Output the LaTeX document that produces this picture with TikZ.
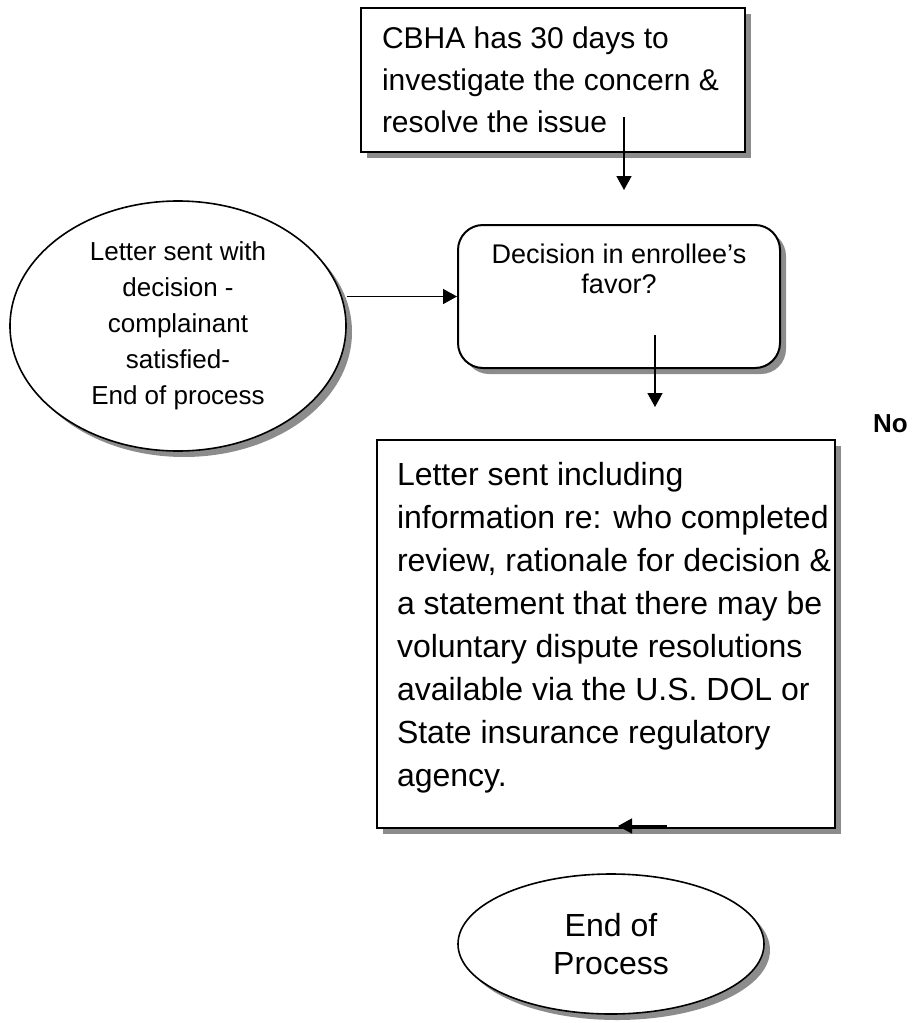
\documentclass[tikz,border=0pt]{standalone}
\usepackage{fontspec}
\setmainfont{Liberation Sans}
\usetikzlibrary{shadows,arrows.meta,shapes.geometric}
\begin{document}
\begin{tikzpicture}[x=1pt,y=-1pt,
  shad/.style={drop shadow={shadow xshift=6pt,shadow yshift=-6pt,fill=black!45,opacity=1}},
  boxrect/.style={draw,line width=2pt,fill=white,rectangle,inner sep=0pt,shad},
  oval/.style={draw,line width=1.6pt,fill=white,ellipse,inner sep=0pt,align=center,shad},
  arr/.style={line width=1.5pt,-{Triangle[length=14pt,width=15pt]}}]
\useasboundingbox (0,0) rectangle (913,1023);

\node[boxrect] (cbha) at (553,80) {\hspace*{21pt}\parbox[c][144pt][t]{363pt}{\fontsize{30}{42}\selectfont\raggedright\rule{0pt}{40pt}CBHA has 30 days to\\investigate the concern \&\\resolve the issue}};

\node[boxrect,rounded corners=25pt] (dec) at (619,296.5) {\parbox[c][143pt][t]{322pt}{\centering\fontsize{27}{30}\selectfont\rule{0pt}{38pt}Decision in enrollee’s\\favor?}};

\node[boxrect] (letter) at (606,634) {\hspace*{20pt}\parbox[c][388pt][t]{438pt}{\fontsize{32}{43}\selectfont\raggedright\rule{0pt}{45pt}Letter sent including\\information re: who completed\\review, rationale for decision \&\\a statement that there may be\\voluntary dispute resolutions\\available via the U.S. DOL or\\State insurance regulatory\\agency.}};

\node[oval,minimum width=336pt,minimum height=250pt,font=\fontsize{26}{36}\selectfont] (sat) at (178,326) {Letter sent with\\decision -\\complainant\\satisfied-\\End of process};

\node[oval,minimum width=306pt,minimum height=140pt,font=\fontsize{32}{38}\selectfont] (end) at (611,944) {End of\\Process};

\node[anchor=base west,inner sep=0pt,font=\fontsize{26}{30}\selectfont\bfseries] (no) at (873,432) {No};

\coordinate (a1s) at (624,117);
\coordinate (a1e) at (624,190);
\draw[arr] (a1s) -- (a1e);
\draw[arr] (sat.east |- dec.west) -- (dec.west);
\coordinate (a3s) at (655,335);
\coordinate (a3e) at (655,407);
\draw[arr] (a3s) -- (a3e);
\coordinate (a4s) at (667,826);
\coordinate (a4e) at (618,826);
\draw[arr] (a4s) -- (a4e);
\end{tikzpicture}
\end{document}
